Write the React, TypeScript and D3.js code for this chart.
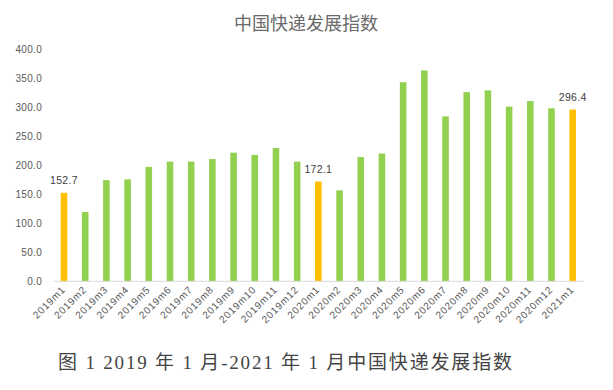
import React from "react";
import * as d3 from "d3";

// months on the x axis
const months = [
  "2019m1", "2019m2", "2019m3", "2019m4", "2019m5", "2019m6", "2019m7",
  "2019m8", "2019m9", "2019m10", "2019m11", "2019m12", "2020m1", "2020m2",
  "2020m3", "2020m4", "2020m5", "2020m6", "2020m7", "2020m8", "2020m9",
  "2020m10", "2020m11", "2020m12", "2021m1",
];

// index values
const values = [
  152.7, 119.5, 174.5, 176.0, 197.5, 206.5, 206.5, 211.0, 222.0, 218.0,
  230.0, 206.5, 172.1, 157.0, 214.5, 220.5, 343.5, 364.0, 284.5, 326.5,
  329.5, 301.5, 311.0, 298.5, 296.4,
];

// January bars are highlighted and labelled
const highlighted = ["2019m1", "2020m1", "2021m1"];

const yTicks = [0, 50, 100, 150, 200, 250, 300, 350, 400];

const W = 613;
const H = 390;

export default function App() {
  const left = 53.4;
  const right = 583.3;
  const top = 49.5;
  const bottom = 281.3;

  const x = d3.scaleBand<string>().domain(months).range([left, right]).paddingInner(0.69).paddingOuter(0.345);
  const y = d3.scaleLinear().domain([0, 400]).range([bottom, top]);
  const fmt = d3.format(".1f");

  return (
    <svg
      width={W}
      height={H}
      style={{ position: "absolute", left: 0, top: 0, background: "#fff" }}
      fontFamily="'Liberation Sans', Arial, sans-serif"
    >
      <text
        x={306}
        y={30}
        textAnchor="middle"
        fontSize={18}
        fill="#6a6a6a"
        fontFamily="'Noto Sans CJK SC', sans-serif"
      >
        中国快递发展指数
      </text>

      {yTicks.map((t) => (
        <text key={t} x={42} y={y(t)} dy="0.35em" textAnchor="end" fontSize={10} letterSpacing={0.3} fill="#595959">
          {fmt(t)}
        </text>
      ))}

      {months.map((m, i) => {
        const hi = highlighted.includes(m);
        const bx = x(m) as number;
        return (
          <g key={m}>
            <rect
              x={bx}
              y={y(values[i])}
              width={x.bandwidth()}
              height={y(0) - y(values[i])}
              fill={hi ? "#FFC000" : "#92D050"}
            />
            {hi && (
              <text
                x={bx + x.bandwidth() / 2}
                y={y(values[i]) - 9}
                textAnchor="middle"
                fontSize={10.5}
                letterSpacing={0.3}
                fill="#404040"
              >
                {fmt(values[i])}
              </text>
            )}
          </g>
        );
      })}

      <line x1={left} x2={right} y1={bottom} y2={bottom} stroke="#D9D9D9" strokeWidth={1} />

      {months.map((m) => {
        const cx = (x(m) as number) + x.bandwidth() / 2 + 2;
        return (
          <text
            key={m}
            transform={`translate(${cx},${bottom + 9}) rotate(-45)`}
            textAnchor="end"
            fontSize={10}
            letterSpacing={0.8}
            fill="#595959"
          >
            {m}
          </text>
        );
      })}

      <text
        x={58}
        y={369}
        fontSize={19}
        fill="#444"
        fontFamily="'Liberation Serif', 'Noto Sans CJK SC', serif"
        textLength={454}
        lengthAdjust="spacing"
      >
        图 1 2019 年 1 月-2021 年 1 月中国快递发展指数
      </text>
    </svg>
  );
}
